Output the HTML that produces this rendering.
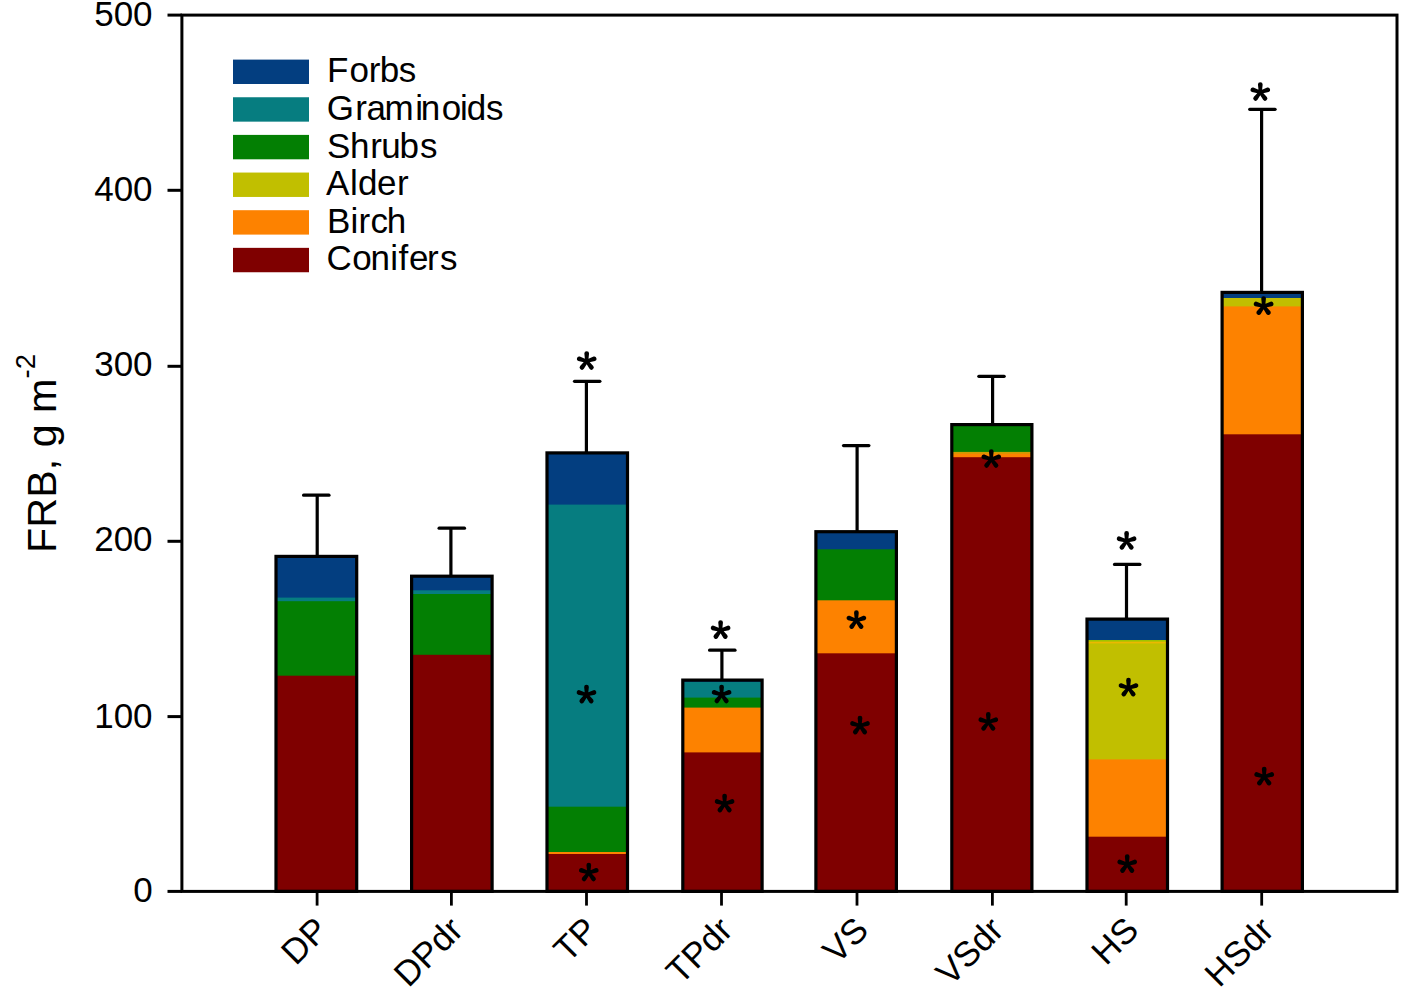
<!DOCTYPE html><html><head><meta charset="utf-8"><style>html,body{margin:0;padding:0;background:#fff;}svg{display:block;}text{font-family:"Liberation Sans",sans-serif;fill:#000;}</style></head><body>
<svg width="1405" height="995" viewBox="0 0 1405 995">
<rect x="0" y="0" width="1405" height="995" fill="#fff"/>
<rect x="275.6" y="556.0" width="81.5" height="335.4" fill="#033e80"/>
<rect x="275.6" y="597.6" width="81.5" height="293.8" fill="#067d80"/>
<rect x="275.6" y="601.2" width="81.5" height="290.2" fill="#037f03"/>
<rect x="275.6" y="675.7" width="81.5" height="215.7" fill="#7f0000"/>
<rect x="276.00" y="556.40" width="80.70" height="335.00" fill="none" stroke="#000" stroke-width="3.2"/>
<line x1="317.2" y1="555.8" x2="317.2" y2="495.2" stroke="#000" stroke-width="3.2"/>
<line x1="303.6" y1="495.2" x2="329.0" y2="495.2" stroke="#000" stroke-width="3.2" stroke-linecap="round"/>
<rect x="411.2" y="575.8" width="81.3" height="315.6" fill="#033e80"/>
<rect x="411.2" y="590.3" width="81.3" height="301.1" fill="#067d80"/>
<rect x="411.2" y="594.0" width="81.3" height="297.4" fill="#037f03"/>
<rect x="411.2" y="654.8" width="81.3" height="236.6" fill="#7f0000"/>
<rect x="411.60" y="576.20" width="80.50" height="315.20" fill="none" stroke="#000" stroke-width="3.2"/>
<line x1="450.9" y1="575.6" x2="450.9" y2="528.2" stroke="#000" stroke-width="3.2"/>
<line x1="439.1" y1="528.2" x2="464.5" y2="528.2" stroke="#000" stroke-width="3.2" stroke-linecap="round"/>
<rect x="546.6" y="452.5" width="81.3" height="438.9" fill="#033e80"/>
<rect x="546.6" y="504.6" width="81.3" height="386.8" fill="#067d80"/>
<rect x="546.6" y="806.7" width="81.3" height="84.7" fill="#037f03"/>
<rect x="546.6" y="852.0" width="81.3" height="39.4" fill="#fd8200"/>
<rect x="546.6" y="854.0" width="81.3" height="37.4" fill="#7f0000"/>
<rect x="547.00" y="452.90" width="80.50" height="438.50" fill="none" stroke="#000" stroke-width="3.2"/>
<line x1="586.4" y1="452.3" x2="586.4" y2="381.3" stroke="#000" stroke-width="3.2"/>
<line x1="574.5" y1="381.3" x2="599.9" y2="381.3" stroke="#000" stroke-width="3.2" stroke-linecap="round"/>
<rect x="682.4" y="679.7" width="80.1" height="211.7" fill="#033e80"/>
<rect x="682.4" y="682.0" width="80.1" height="209.4" fill="#067d80"/>
<rect x="682.4" y="697.6" width="80.1" height="193.8" fill="#037f03"/>
<rect x="682.4" y="707.6" width="80.1" height="183.8" fill="#fd8200"/>
<rect x="682.4" y="752.4" width="80.1" height="139.0" fill="#7f0000"/>
<rect x="682.80" y="680.10" width="79.30" height="211.30" fill="none" stroke="#000" stroke-width="3.2"/>
<line x1="721.9" y1="679.5" x2="721.9" y2="650.2" stroke="#000" stroke-width="3.2"/>
<line x1="709.6" y1="650.2" x2="735.0" y2="650.2" stroke="#000" stroke-width="3.2" stroke-linecap="round"/>
<rect x="815.5" y="531.3" width="81.3" height="360.1" fill="#033e80"/>
<rect x="815.5" y="549.3" width="81.3" height="342.1" fill="#037f03"/>
<rect x="815.5" y="600.3" width="81.3" height="291.1" fill="#fd8200"/>
<rect x="815.5" y="653.3" width="81.3" height="238.1" fill="#7f0000"/>
<rect x="815.90" y="531.70" width="80.50" height="359.70" fill="none" stroke="#000" stroke-width="3.2"/>
<line x1="857.1" y1="531.1" x2="857.1" y2="445.6" stroke="#000" stroke-width="3.2"/>
<line x1="843.5" y1="445.6" x2="868.9" y2="445.6" stroke="#000" stroke-width="3.2" stroke-linecap="round"/>
<rect x="951.4" y="424.2" width="80.9" height="467.2" fill="#037f03"/>
<rect x="951.4" y="451.9" width="80.9" height="439.5" fill="#cf9a00"/>
<rect x="951.4" y="453.7" width="80.9" height="437.7" fill="#fd8200"/>
<rect x="951.4" y="457.2" width="80.9" height="434.2" fill="#7f0000"/>
<rect x="951.80" y="424.60" width="80.10" height="466.80" fill="none" stroke="#000" stroke-width="3.2"/>
<line x1="992.6" y1="424.0" x2="992.6" y2="376.3" stroke="#000" stroke-width="3.2"/>
<line x1="978.8" y1="376.3" x2="1004.2" y2="376.3" stroke="#000" stroke-width="3.2" stroke-linecap="round"/>
<rect x="1086.6" y="618.7" width="81.3" height="272.7" fill="#033e80"/>
<rect x="1086.6" y="640.0" width="81.3" height="251.4" fill="#9ec400"/>
<rect x="1086.6" y="641.6" width="81.3" height="249.8" fill="#ecb800"/>
<rect x="1086.6" y="643.4" width="81.3" height="248.0" fill="#c1bf00"/>
<rect x="1086.6" y="759.4" width="81.3" height="132.0" fill="#fd8200"/>
<rect x="1086.6" y="836.7" width="81.3" height="54.7" fill="#7f0000"/>
<rect x="1087.00" y="619.10" width="80.50" height="272.30" fill="none" stroke="#000" stroke-width="3.2"/>
<line x1="1126.5" y1="618.5" x2="1126.5" y2="564.4" stroke="#000" stroke-width="3.2"/>
<line x1="1114.5" y1="564.4" x2="1139.9" y2="564.4" stroke="#000" stroke-width="3.2" stroke-linecap="round"/>
<rect x="1221.7" y="292.0" width="81.1" height="599.4" fill="#033e80"/>
<rect x="1221.7" y="298.0" width="81.1" height="593.4" fill="#c1bf00"/>
<rect x="1221.7" y="306.4" width="81.1" height="585.0" fill="#fd8200"/>
<rect x="1221.7" y="434.3" width="81.1" height="457.1" fill="#7f0000"/>
<rect x="1222.10" y="292.40" width="80.30" height="599.00" fill="none" stroke="#000" stroke-width="3.2"/>
<line x1="1261.6" y1="291.8" x2="1261.6" y2="109.3" stroke="#000" stroke-width="3.2"/>
<line x1="1249.7" y1="109.3" x2="1275.1" y2="109.3" stroke="#000" stroke-width="3.2" stroke-linecap="round"/>
<rect x="181.9" y="15.1" width="1215.1" height="876.3" fill="none" stroke="#000" stroke-width="3"/>
<line x1="167.5" y1="891.4" x2="182" y2="891.4" stroke="#000" stroke-width="3"/>
<text x="152.6" y="902.3" font-size="35" text-anchor="end">0</text>
<line x1="167.5" y1="716.6" x2="182" y2="716.6" stroke="#000" stroke-width="3"/>
<text x="152.6" y="727.7" font-size="35" text-anchor="end">100</text>
<line x1="167.5" y1="541.3" x2="182" y2="541.3" stroke="#000" stroke-width="3"/>
<text x="152.6" y="551.3" font-size="35" text-anchor="end">200</text>
<line x1="167.5" y1="366.3" x2="182" y2="366.3" stroke="#000" stroke-width="3"/>
<text x="152.6" y="376.2" font-size="35" text-anchor="end">300</text>
<line x1="167.5" y1="190.3" x2="182" y2="190.3" stroke="#000" stroke-width="3"/>
<text x="152.6" y="201.3" font-size="35" text-anchor="end">400</text>
<line x1="167.5" y1="15.1" x2="182" y2="15.1" stroke="#000" stroke-width="3"/>
<text x="152.6" y="26.2" font-size="35" text-anchor="end">500</text>
<line x1="317.1" y1="891" x2="317.1" y2="905.6" stroke="#000" stroke-width="2.8"/>
<line x1="451.4" y1="891" x2="451.4" y2="905.6" stroke="#000" stroke-width="2.8"/>
<line x1="586.5" y1="891" x2="586.5" y2="905.6" stroke="#000" stroke-width="2.8"/>
<line x1="721.5" y1="891" x2="721.5" y2="905.6" stroke="#000" stroke-width="2.8"/>
<line x1="857.0" y1="891" x2="857.0" y2="905.6" stroke="#000" stroke-width="2.8"/>
<line x1="992.4" y1="891" x2="992.4" y2="905.6" stroke="#000" stroke-width="2.8"/>
<line x1="1126.2" y1="891" x2="1126.2" y2="905.6" stroke="#000" stroke-width="2.8"/>
<line x1="1261.7" y1="891" x2="1261.7" y2="905.6" stroke="#000" stroke-width="2.8"/>
<path d="M588.25 361.20L589.05 353.50A2.35 2.35 0 0 0 584.35 353.50L585.15 361.20ZM587.16 362.68L595.02 361.06A2.35 2.35 0 0 0 593.62 356.58L586.24 359.72ZM585.46 362.13L589.53 368.85A2.35 2.35 0 0 0 593.28 366.01L587.94 360.27ZM585.46 360.27L580.12 366.01A2.35 2.35 0 0 0 583.87 368.85L587.94 362.13ZM587.16 359.72L579.78 356.58A2.35 2.35 0 0 0 578.38 361.06L586.24 362.68Z" fill="#000" fill-rule="nonzero"/><circle cx="586.70" cy="361.20" r="2.15" fill="#000"/>
<path d="M588.05 694.80L588.85 687.10A2.35 2.35 0 0 0 584.15 687.10L584.95 694.80ZM586.96 696.28L594.82 694.66A2.35 2.35 0 0 0 593.42 690.18L586.04 693.32ZM585.26 695.73L589.33 702.45A2.35 2.35 0 0 0 593.08 699.61L587.74 693.87ZM585.26 693.87L579.92 699.61A2.35 2.35 0 0 0 583.67 702.45L587.74 695.73ZM586.96 693.32L579.58 690.18A2.35 2.35 0 0 0 578.18 694.66L586.04 696.28Z" fill="#000" fill-rule="nonzero"/><circle cx="586.50" cy="694.80" r="2.15" fill="#000"/>
<path d="M590.35 872.70L591.15 865.00A2.35 2.35 0 0 0 586.45 865.00L587.25 872.70ZM589.26 874.18L597.12 872.56A2.35 2.35 0 0 0 595.72 868.08L588.34 871.22ZM587.56 873.63L591.63 880.35A2.35 2.35 0 0 0 595.38 877.51L590.04 871.77ZM587.56 871.77L582.22 877.51A2.35 2.35 0 0 0 585.97 880.35L590.04 873.63ZM589.26 871.22L581.88 868.08A2.35 2.35 0 0 0 580.48 872.56L588.34 874.18Z" fill="#000" fill-rule="nonzero"/><circle cx="588.80" cy="872.70" r="2.15" fill="#000"/>
<path d="M722.15 630.30L722.95 622.60A2.35 2.35 0 0 0 718.25 622.60L719.05 630.30ZM721.06 631.78L728.92 630.16A2.35 2.35 0 0 0 727.52 625.68L720.14 628.82ZM719.36 631.23L723.43 637.95A2.35 2.35 0 0 0 727.18 635.11L721.84 629.37ZM719.36 629.37L714.02 635.11A2.35 2.35 0 0 0 717.77 637.95L721.84 631.23ZM721.06 628.82L713.68 625.68A2.35 2.35 0 0 0 712.28 630.16L720.14 631.78Z" fill="#000" fill-rule="nonzero"/><circle cx="720.60" cy="630.30" r="2.15" fill="#000"/>
<path d="M723.15 694.70L723.95 687.00A2.35 2.35 0 0 0 719.25 687.00L720.05 694.70ZM722.06 696.18L729.92 694.56A2.35 2.35 0 0 0 728.52 690.08L721.14 693.22ZM720.36 695.63L724.43 702.35A2.35 2.35 0 0 0 728.18 699.51L722.84 693.77ZM720.36 693.77L715.02 699.51A2.35 2.35 0 0 0 718.77 702.35L722.84 695.63ZM722.06 693.22L714.68 690.08A2.35 2.35 0 0 0 713.28 694.56L721.14 696.18Z" fill="#000" fill-rule="nonzero"/><circle cx="721.60" cy="694.70" r="2.15" fill="#000"/>
<path d="M726.15 803.80L726.95 796.10A2.35 2.35 0 0 0 722.25 796.10L723.05 803.80ZM725.06 805.28L732.92 803.66A2.35 2.35 0 0 0 731.52 799.18L724.14 802.32ZM723.36 804.73L727.43 811.45A2.35 2.35 0 0 0 731.18 808.61L725.84 802.87ZM723.36 802.87L718.02 808.61A2.35 2.35 0 0 0 721.77 811.45L725.84 804.73ZM725.06 802.32L717.68 799.18A2.35 2.35 0 0 0 716.28 803.66L724.14 805.28Z" fill="#000" fill-rule="nonzero"/><circle cx="724.60" cy="803.80" r="2.15" fill="#000"/>
<path d="M857.95 620.40L858.75 612.70A2.35 2.35 0 0 0 854.05 612.70L854.85 620.40ZM856.86 621.88L864.72 620.26A2.35 2.35 0 0 0 863.32 615.78L855.94 618.92ZM855.16 621.33L859.23 628.05A2.35 2.35 0 0 0 862.98 625.21L857.64 619.47ZM855.16 619.47L849.82 625.21A2.35 2.35 0 0 0 853.57 628.05L857.64 621.33ZM856.86 618.92L849.48 615.78A2.35 2.35 0 0 0 848.08 620.26L855.94 621.88Z" fill="#000" fill-rule="nonzero"/><circle cx="856.40" cy="620.40" r="2.15" fill="#000"/>
<path d="M861.55 725.80L862.35 718.10A2.35 2.35 0 0 0 857.65 718.10L858.45 725.80ZM860.46 727.28L868.32 725.66A2.35 2.35 0 0 0 866.92 721.18L859.54 724.32ZM858.76 726.73L862.83 733.45A2.35 2.35 0 0 0 866.58 730.61L861.24 724.87ZM858.76 724.87L853.42 730.61A2.35 2.35 0 0 0 857.17 733.45L861.24 726.73ZM860.46 724.32L853.08 721.18A2.35 2.35 0 0 0 851.68 725.66L859.54 727.28Z" fill="#000" fill-rule="nonzero"/><circle cx="860.00" cy="725.80" r="2.15" fill="#000"/>
<path d="M992.85 459.20L993.65 451.50A2.35 2.35 0 0 0 988.95 451.50L989.75 459.20ZM991.76 460.68L999.62 459.06A2.35 2.35 0 0 0 998.22 454.58L990.84 457.72ZM990.06 460.13L994.13 466.85A2.35 2.35 0 0 0 997.88 464.01L992.54 458.27ZM990.06 458.27L984.72 464.01A2.35 2.35 0 0 0 988.47 466.85L992.54 460.13ZM991.76 457.72L984.38 454.58A2.35 2.35 0 0 0 982.98 459.06L990.84 460.68Z" fill="#000" fill-rule="nonzero"/><circle cx="991.30" cy="459.20" r="2.15" fill="#000"/>
<path d="M989.85 722.10L990.65 714.40A2.35 2.35 0 0 0 985.95 714.40L986.75 722.10ZM988.76 723.58L996.62 721.96A2.35 2.35 0 0 0 995.22 717.48L987.84 720.62ZM987.06 723.03L991.13 729.75A2.35 2.35 0 0 0 994.88 726.91L989.54 721.17ZM987.06 721.17L981.72 726.91A2.35 2.35 0 0 0 985.47 729.75L989.54 723.03ZM988.76 720.62L981.38 717.48A2.35 2.35 0 0 0 979.98 721.96L987.84 723.58Z" fill="#000" fill-rule="nonzero"/><circle cx="988.30" cy="722.10" r="2.15" fill="#000"/>
<path d="M1128.15 541.10L1128.95 533.40A2.35 2.35 0 0 0 1124.25 533.40L1125.05 541.10ZM1127.06 542.58L1134.92 540.96A2.35 2.35 0 0 0 1133.52 536.48L1126.14 539.62ZM1125.36 542.03L1129.43 548.75A2.35 2.35 0 0 0 1133.18 545.91L1127.84 540.17ZM1125.36 540.17L1120.02 545.91A2.35 2.35 0 0 0 1123.77 548.75L1127.84 542.03ZM1127.06 539.62L1119.68 536.48A2.35 2.35 0 0 0 1118.28 540.96L1126.14 542.58Z" fill="#000" fill-rule="nonzero"/><circle cx="1126.60" cy="541.10" r="2.15" fill="#000"/>
<path d="M1130.05 687.90L1130.85 680.20A2.35 2.35 0 0 0 1126.15 680.20L1126.95 687.90ZM1128.96 689.38L1136.82 687.76A2.35 2.35 0 0 0 1135.42 683.28L1128.04 686.42ZM1127.26 688.83L1131.33 695.55A2.35 2.35 0 0 0 1135.08 692.71L1129.74 686.97ZM1127.26 686.97L1121.92 692.71A2.35 2.35 0 0 0 1125.67 695.55L1129.74 688.83ZM1128.96 686.42L1121.58 683.28A2.35 2.35 0 0 0 1120.18 687.76L1128.04 689.38Z" fill="#000" fill-rule="nonzero"/><circle cx="1128.50" cy="687.90" r="2.15" fill="#000"/>
<path d="M1128.75 864.30L1129.55 856.60A2.35 2.35 0 0 0 1124.85 856.60L1125.65 864.30ZM1127.66 865.78L1135.52 864.16A2.35 2.35 0 0 0 1134.12 859.68L1126.74 862.82ZM1125.96 865.23L1130.03 871.95A2.35 2.35 0 0 0 1133.78 869.11L1128.44 863.37ZM1125.96 863.37L1120.62 869.11A2.35 2.35 0 0 0 1124.37 871.95L1128.44 865.23ZM1127.66 862.82L1120.28 859.68A2.35 2.35 0 0 0 1118.88 864.16L1126.74 865.78Z" fill="#000" fill-rule="nonzero"/><circle cx="1127.20" cy="864.30" r="2.15" fill="#000"/>
<path d="M1261.85 92.20L1262.65 84.50A2.35 2.35 0 0 0 1257.95 84.50L1258.75 92.20ZM1260.76 93.68L1268.62 92.06A2.35 2.35 0 0 0 1267.22 87.58L1259.84 90.72ZM1259.06 93.13L1263.13 99.85A2.35 2.35 0 0 0 1266.88 97.01L1261.54 91.27ZM1259.06 91.27L1253.72 97.01A2.35 2.35 0 0 0 1257.47 99.85L1261.54 93.13ZM1260.76 90.72L1253.38 87.58A2.35 2.35 0 0 0 1251.98 92.06L1259.84 93.68Z" fill="#000" fill-rule="nonzero"/><circle cx="1260.30" cy="92.20" r="2.15" fill="#000"/>
<path d="M1265.15 306.30L1265.95 298.60A2.35 2.35 0 0 0 1261.25 298.60L1262.05 306.30ZM1264.06 307.78L1271.92 306.16A2.35 2.35 0 0 0 1270.52 301.68L1263.14 304.82ZM1262.36 307.23L1266.43 313.95A2.35 2.35 0 0 0 1270.18 311.11L1264.84 305.37ZM1262.36 305.37L1257.02 311.11A2.35 2.35 0 0 0 1260.77 313.95L1264.84 307.23ZM1264.06 304.82L1256.68 301.68A2.35 2.35 0 0 0 1255.28 306.16L1263.14 307.78Z" fill="#000" fill-rule="nonzero"/><circle cx="1263.60" cy="306.30" r="2.15" fill="#000"/>
<path d="M1265.75 776.80L1266.55 769.10A2.35 2.35 0 0 0 1261.85 769.10L1262.65 776.80ZM1264.66 778.28L1272.52 776.66A2.35 2.35 0 0 0 1271.12 772.18L1263.74 775.32ZM1262.96 777.73L1267.03 784.45A2.35 2.35 0 0 0 1270.78 781.61L1265.44 775.87ZM1262.96 775.87L1257.62 781.61A2.35 2.35 0 0 0 1261.37 784.45L1265.44 777.73ZM1264.66 775.32L1257.28 772.18A2.35 2.35 0 0 0 1255.88 776.66L1263.74 778.28Z" fill="#000" fill-rule="nonzero"/><circle cx="1264.20" cy="776.80" r="2.15" fill="#000"/>
<rect x="233" y="59.60" width="76" height="24.4" fill="#033e80"/>
<text x="326.9 349.4 368.7 379.8 398.8" y="82.4" font-size="35">Forbs</text>
<rect x="233" y="97.25" width="76" height="24.4" fill="#067d80"/>
<text x="326.7 355.2 366.6 384.6 415.2 420.7 441.7 460.1 466.8 485.9" y="120.0" font-size="35">Graminoids</text>
<rect x="233" y="134.90" width="76" height="24.4" fill="#037f03"/>
<text x="327.0 349.9 370.3 381.3 399.6 419.9" y="157.6" font-size="35">Shrubs</text>
<rect x="233" y="172.55" width="76" height="24.4" fill="#c1bf00"/>
<text x="326.0 349.9 358.1 377.0 396.9" y="195.2" font-size="35">Alder</text>
<rect x="233" y="210.20" width="76" height="24.4" fill="#fd8200"/>
<text x="327.0 350.5 358.4 370.4 386.8" y="232.8" font-size="35">Birch</text>
<rect x="233" y="247.85" width="76" height="24.4" fill="#7f0000"/>
<text x="326.5 352.3 370.5 390.3 398.4 409.0 427.1 439.9" y="270.4" font-size="35">Conifers</text>
<text transform="translate(56.2,552.9) rotate(-90)" font-size="41.3">FRB, g m<tspan font-size="27.5" dy="-20.8">-2</tspan></text>
<text transform="translate(330.2,932.0) rotate(-45)" font-size="35" text-anchor="end">DP</text>
<text transform="translate(464.9,932.0) rotate(-45)" font-size="35" text-anchor="end">DPdr</text>
<text transform="translate(599.8,932.0) rotate(-45)" font-size="35" text-anchor="end">TP</text>
<text transform="translate(734.5,932.0) rotate(-45)" font-size="35" text-anchor="end">TPdr</text>
<text transform="translate(870.2,932.0) rotate(-45)" font-size="35" text-anchor="end">VS</text>
<text transform="translate(1005.4,932.0) rotate(-45)" font-size="35" text-anchor="end">VSdr</text>
<text transform="translate(1140.4,932.0) rotate(-45)" font-size="35" text-anchor="end">HS</text>
<text transform="translate(1275.7,932.0) rotate(-45)" font-size="35" text-anchor="end">HSdr</text>
</svg></body></html>
